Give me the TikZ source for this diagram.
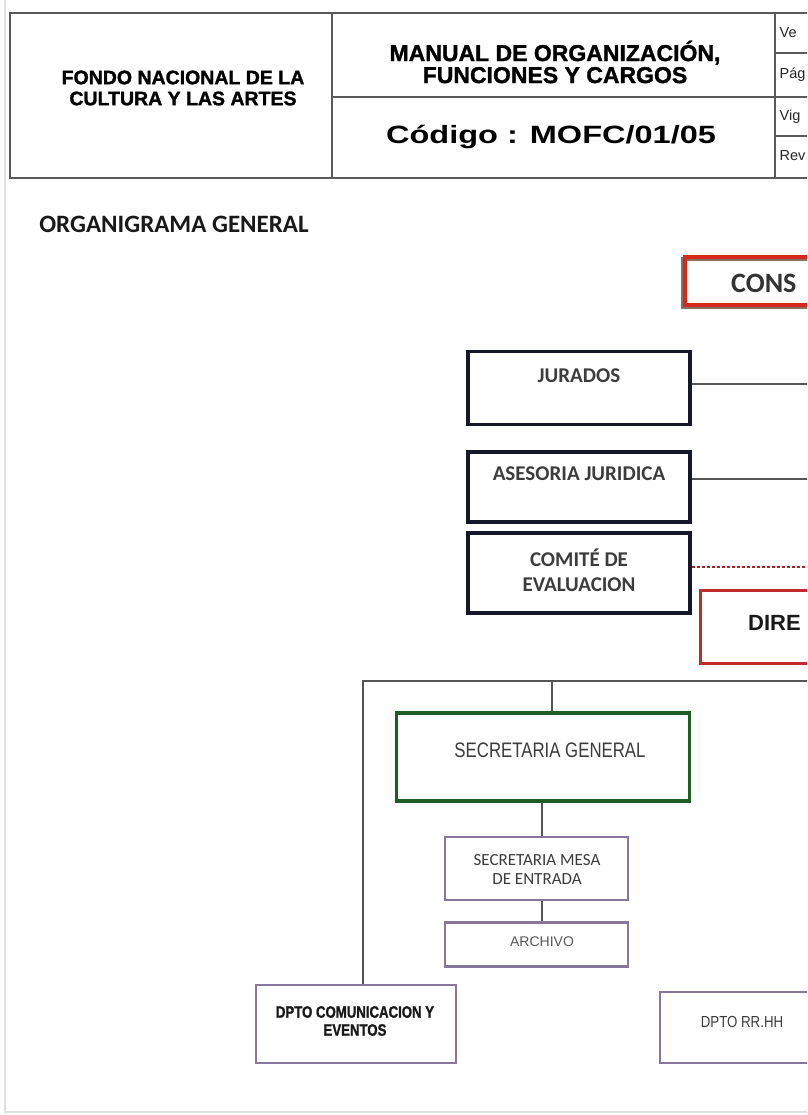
\documentclass[tikz,border=0pt]{standalone}
\usepackage{fontspec}
\setmainfont{Liberation Sans}
\newfontfamily\calib{Carlito}
\newfontfamily\heavy[FakeBold=1.4]{Liberation Sans Bold}
\usepackage{graphicx}
\definecolor{redC}{HTML}{D6281C}
\definecolor{redD}{HTML}{C42A2A}
\definecolor{shadowC}{HTML}{8A7062}
\definecolor{darkB}{HTML}{17172A}
\definecolor{greenB}{HTML}{1E5E24}
\definecolor{purpB}{HTML}{86769E}
\definecolor{txtG}{HTML}{3C3C3C}
\definecolor{lineG}{HTML}{555555}
\definecolor{tabL}{HTML}{5A5A5A}
\tikzset{
  tline/.style={draw=tabL, line width=1.6pt},
  darkbox/.style={draw=darkB, line width=3.6pt, rectangle, inner sep=0pt},
  greenbox/.style={draw=greenB, line width=3.6pt, rectangle, inner sep=0pt},
  purpbox/.style={draw=purpB, line width=2.8pt, rectangle, inner sep=0pt},
  redboxC/.style={draw=redC, line width=4.5pt, rectangle, inner sep=0pt},
  redboxD/.style={draw=redD, line width=3pt, rectangle, inner sep=0pt},
  conn/.style={draw=lineG, line width=1.3pt},
  dconn/.style={draw=redD!85!black, line width=1.5pt, dash pattern=on 3pt off 2pt},
  lbl/.style={inner sep=0pt, text=txtG, font=\calib\bfseries\fontsize{21}{25}\selectfont, align=center},
  hdr/.style={inner sep=0pt, text=black, font=\heavy\fontsize{23}{22}\selectfont, align=center},
  cell/.style={inner sep=0pt, anchor=west, text=black!85, font=\fontsize{14.5}{14.5}\selectfont},
}
\begin{document}
\begin{tikzpicture}[x=1pt,y=-1pt]
\useasboundingbox (0,0) rectangle (807,1115);
\clip (0,0) rectangle (807,1115);
\fill[white] (0,0) rectangle (807,1115);
% page edge
\draw[black!12, line width=1.5pt] (5,0) -- (5,1112) -- (807,1112);

% ===== header table =====
\draw[tline] (10,13) rectangle (830,178);
\draw[tline] (332,13) -- (332,178);
\draw[tline] (775,13) -- (775,178);
\draw[tline] (332,97) -- (830,97);
\draw[tline] (775,53) -- (830,53);
\draw[tline] (775,136) -- (830,136);

\node[hdr, font=\heavy\fontsize{19.5}{21}\selectfont] (fondo) at (183,88) {FONDO NACIONAL DE LA\\CULTURA Y LAS ARTES};
\node[hdr] (manual) at (555,62) {MANUAL DE ORGANIZACIÓN,\\FUNCIONES Y CARGOS};
\node[hdr, font=\bfseries\fontsize{25}{25}\selectfont] (codigo) at (551,137) {\scalebox{1.3}[1]{Código : MOFC/01/05}};
\node[cell] (ve) at (779.5,33) {Ve};
\node[cell] (pag) at (779.5,75) {Pág};
\node[cell] (vig) at (779.5,117) {Vig};
\node[cell] (rev) at (779.5,156) {Rev};

% ===== title =====
\node[inner sep=0pt, font=\calib\bfseries\fontsize{25}{25}\selectfont, text=black!90] (title) at (174,224) {ORGANIGRAMA GENERAL};

% ===== boxes =====
% CONSEJO
\draw[shadowC, line width=4pt] (683,259) rectangle (840,307);
\node[redboxC, minimum width=155pt, minimum height=48pt] (cons) at (762.5,281) {};
\node[inner sep=0pt, anchor=west, text=black!80, font=\calib\bfseries\fontsize{28}{28}\selectfont] (consT) at (731,283) {CONS};

% JURADOS
\node[darkbox, minimum width=222pt, minimum height=73pt] (jur) at (579,388) {};
\node[lbl] (jurT) at (579,376) {JURADOS};
% ASESORIA
\node[darkbox, minimum width=222pt, minimum height=70pt] (ase) at (579,487) {};
\node[lbl] (aseT) at (579,474) {ASESORIA JURIDICA};
% COMITE
\node[darkbox, minimum width=222pt, minimum height=80pt] (com) at (579,573) {};
\node[lbl] (comT) at (579,570) {COMITÉ DE\\EVALUACION};

% DIRECCION
\node[redboxD, minimum width=150pt, minimum height=73pt] (dir) at (775,626.5) {};
\node[inner sep=0pt, anchor=west, text=black!90, font=\bfseries\fontsize{22}{22}\selectfont] (dirT) at (748,623) {DIRE};

% SECRETARIA GENERAL
\node[greenbox, minimum width=293pt, minimum height=88pt] (sg) at (543,757) {};
\node[inner sep=0pt, text=txtG, font=\fontsize{21}{21}\selectfont] (sgT) at (550,750) {\scalebox{0.8}[1]{SECRETARIA GENERAL}};

% SECRETARIA MESA
\node[purpbox, minimum width=183pt, minimum height=63pt] (mesa) at (536.5,868.5) {};
\node[inner sep=0pt, text=txtG, align=center, font=\calib\fontsize{17}{19}\selectfont] (mesaT) at (537,869) {SECRETARIA MESA\\DE ENTRADA};

% ARCHIVO
\node[purpbox, minimum width=183pt, minimum height=44pt] (arch) at (536.5,944.5) {};
\node[inner sep=0pt, text=black!65, font=\fontsize{14}{14}\selectfont] (archT) at (542,942) {ARCHIVO};

% DPTO COMUNICACION
\node[purpbox, minimum width=200pt, minimum height=78pt] (com2) at (356,1024) {};
\node[inner sep=0pt, text=black!90, align=center, font=\heavy\fontsize{16.5}{18}\selectfont] (com2T) at (355,1021) {\scalebox{0.8}[1]{DPTO COMUNICACION Y}\\\scalebox{0.8}[1]{EVENTOS}};

% DPTO RR.HH
\node[purpbox, minimum width=170pt, minimum height=71pt] (rrhh) at (745,1027.5) {};
\node[inner sep=0pt, text=txtG, font=\fontsize{16}{16}\selectfont] (rrhhT) at (742,1022) {\scalebox{0.83}[1]{DPTO RR.HH}};

% ===== connectors =====
\coordinate (jurE) at (812,384);
\coordinate (aseE) at (812,479);
\coordinate (comE) at (812,567);
\coordinate (busL) at (363,681);
\coordinate (busR) at (812,681);
\coordinate (busSG) at (552,681);
\coordinate (xm) at (542,0);

\draw[conn] (jur.east |- jurE) -- (jurE);
\draw[conn] (ase.east |- aseE) -- (aseE);
\draw[dconn] (com.east |- comE) -- (comE);
\draw[conn] (busR) -- (busL) -- (busL |- com2.north);
\draw[conn] (busSG) -- (busSG |- sg.north);
\draw[conn] (xm |- sg.south) -- (xm |- mesa.north);
\draw[conn] (xm |- mesa.south) -- (xm |- arch.north);
\end{tikzpicture}
\end{document}
